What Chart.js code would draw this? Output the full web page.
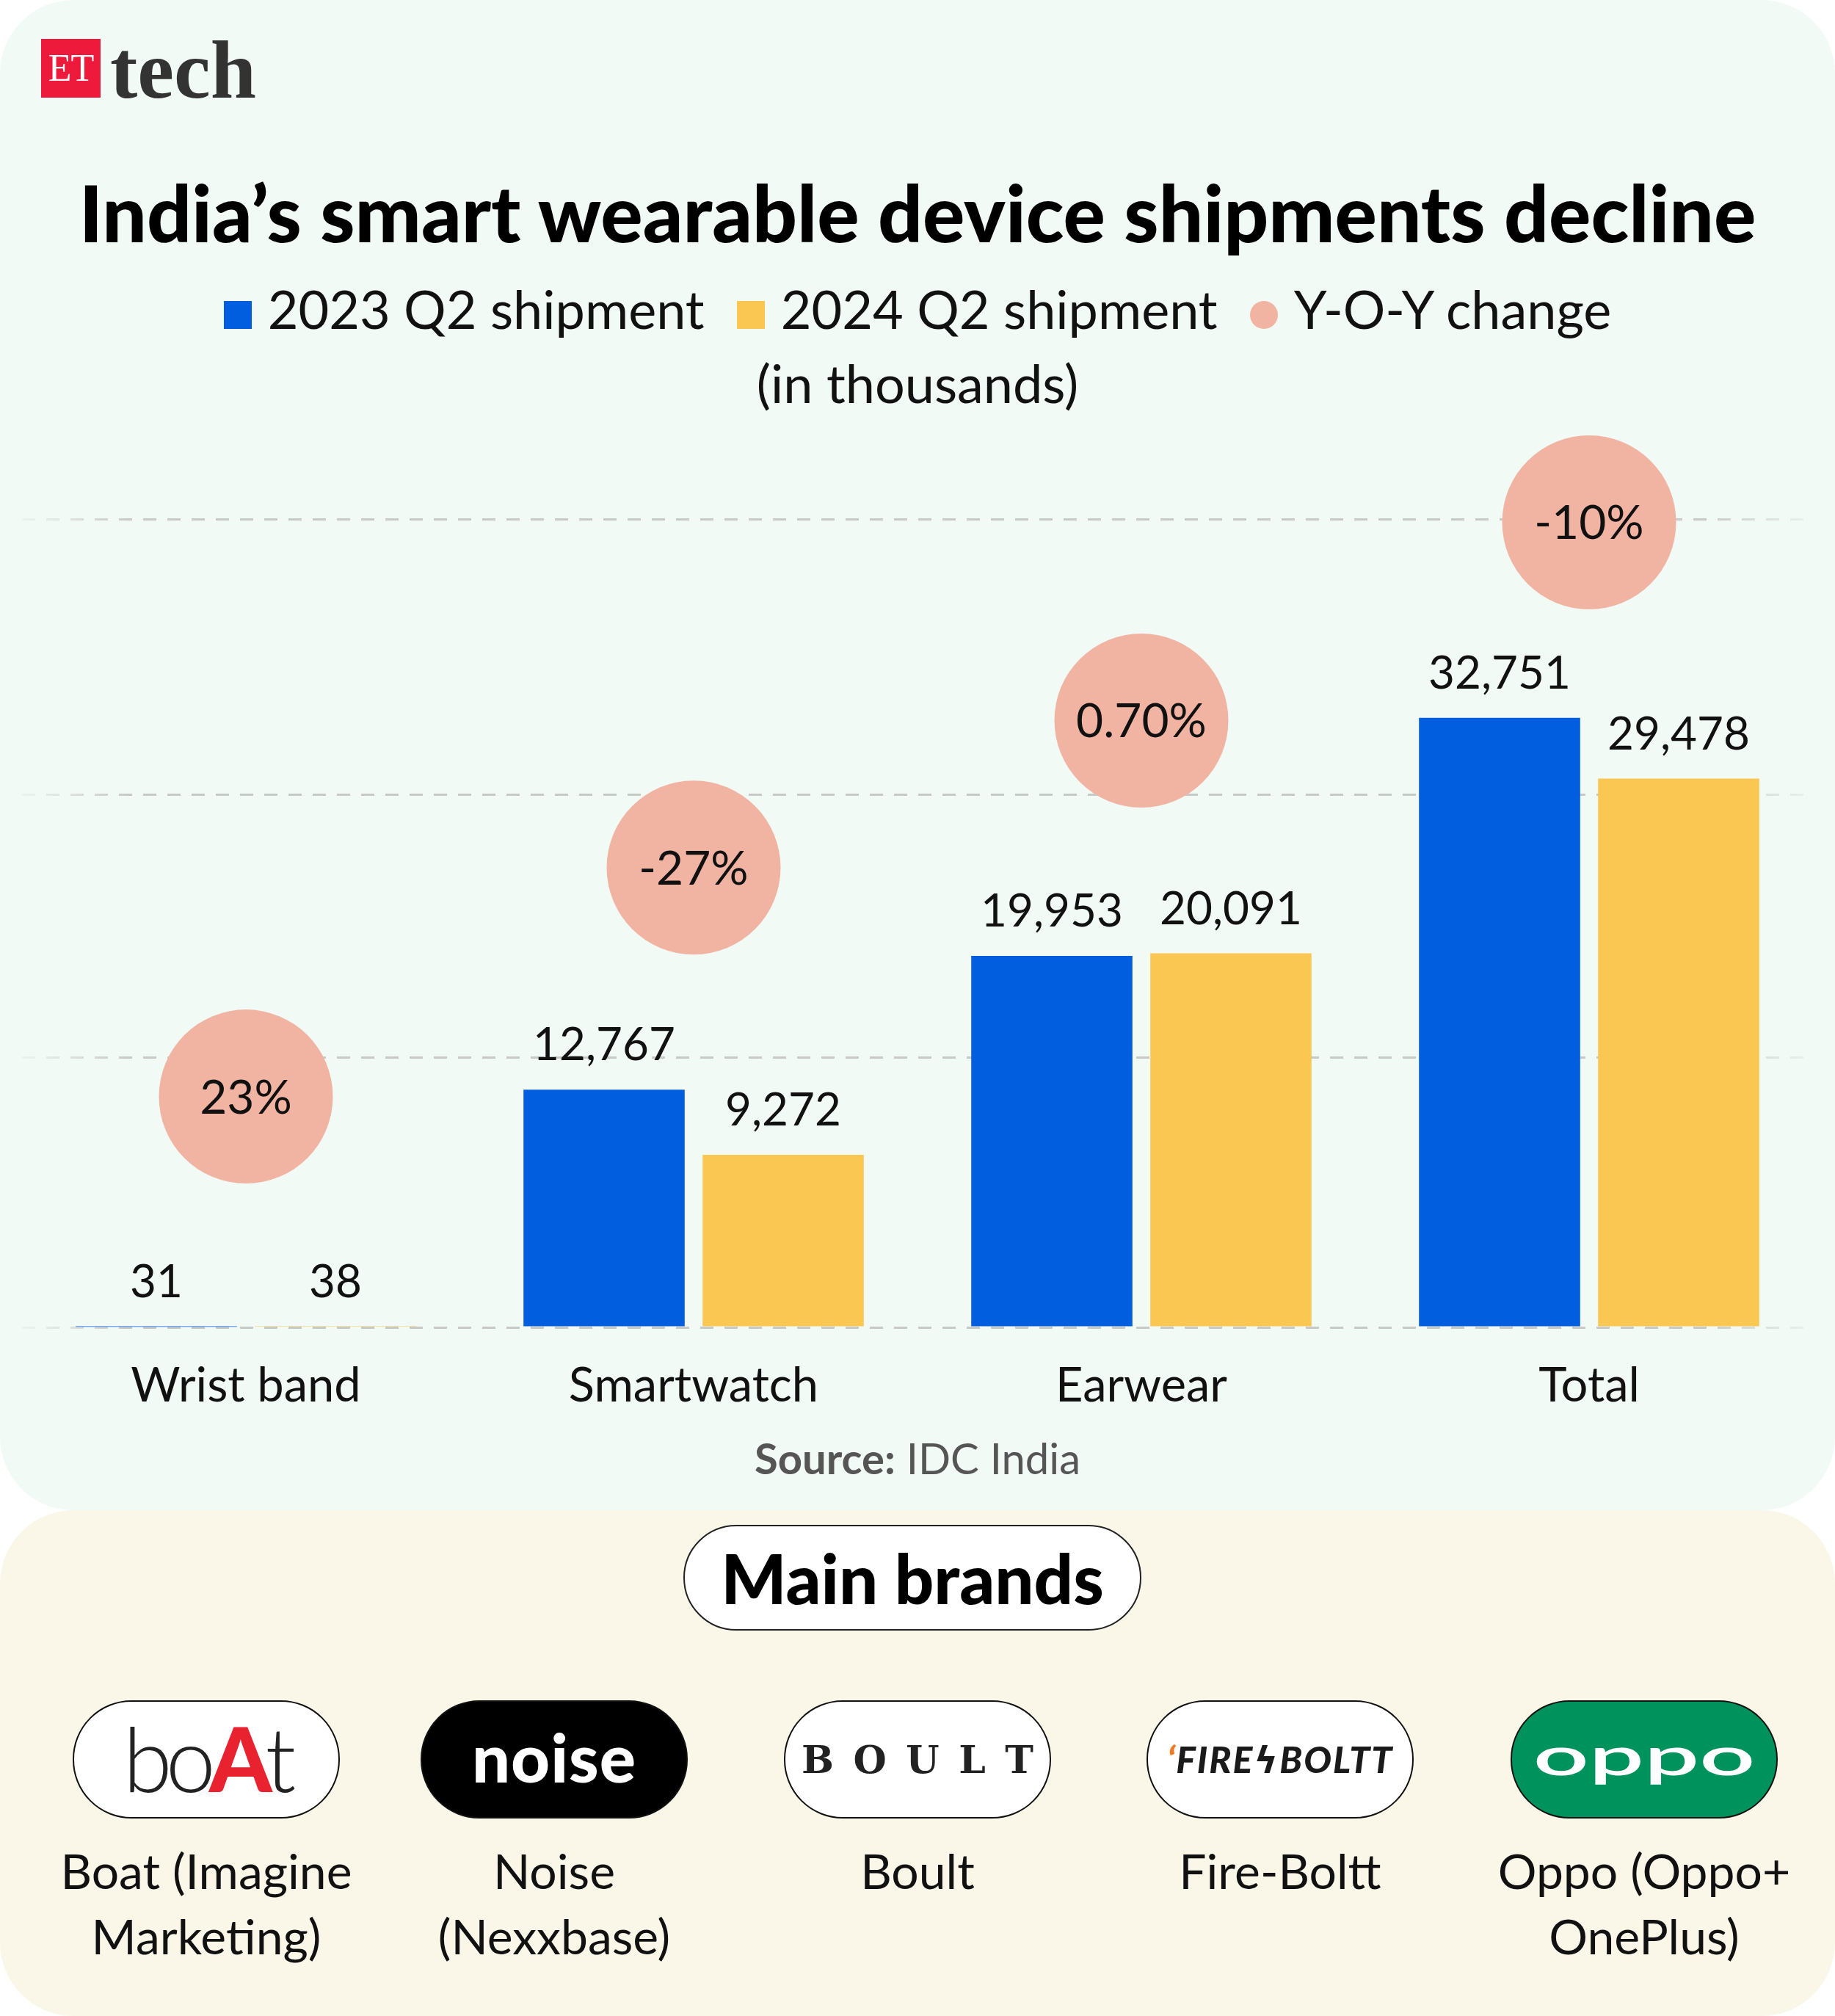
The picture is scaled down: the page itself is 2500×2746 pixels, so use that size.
<!DOCTYPE html>
<html>
<head>
<meta charset="utf-8">
<script src="https://cdn.jsdelivr.net/npm/chart.js"></script>
<style>
  html, body { margin:0; padding:0; background:#ffffff; }
  body { width:2500px; height:2746px; position:relative; overflow:hidden; font-family:Lato, "Noto Sans", sans-serif; color:#111; }
  .abs { position:absolute; }
  #topPanel { left:0; top:0; width:2500px; height:2057px; background:#F1FAF5; border-radius:100px; }
  #bottomPanel { left:0; top:2057px; width:2500px; height:689px; background:#FAF7E8; border-radius:100px; }
  #etBox { left:56px; top:53px; width:81px; height:80px; background:#ED1A3B; color:#fff; font:400 52px/80px "Liberation Serif", serif; text-align:center; letter-spacing:-1px; }
  #etTech { left:150px; top:39px; font:700 112px/112px "Liberation Serif", serif; color:#333; }
  #title { left:0; top:225px; width:2500px; text-align:center; font:900 107px/128px Lato; color:#000; white-space:nowrap; }
  #legend { left:0; top:377px; width:2500px; display:flex; justify-content:center; align-items:baseline; font:400 72px/86px Lato; color:#111; }
  .li { display:flex; align-items:baseline; margin:0 22px; white-space:nowrap; }
  .sw { display:inline-block; width:38px; height:38px; margin-right:22px; }
  #units { left:0; top:478px; width:2500px; text-align:center; font:400 72px/86px Lato; color:#111; }
  #chartWrap { left:0; top:560px; width:2500px; height:1400px; }
  #source { left:0; top:1951px; width:2500px; text-align:center; font:400 58px/70px Lato; color:#555; }
  #mainBrands { left:931px; top:2077px; width:624px; height:144px; box-sizing:border-box; border:2.5px solid #222; border-radius:72px; background:#fff; display:flex; align-items:center; justify-content:center; font:900 94px/1 Lato; color:#000; }
  .pill { top:2316px; width:364px; height:161px; box-sizing:border-box; border:2.5px solid #111; border-radius:80px; background:#fff; display:flex; align-items:center; justify-content:center; overflow:hidden; }
  .bname { top:2503px; width:480px; text-align:center; font:400 66px/89px Lato; color:#111; }
  .boult { display:flex; justify-content:space-between; width:316px; font:700 52px/1 "DejaVu Serif", serif; color:#222; }
</style>
</head>
<body>
<div id="topPanel" class="abs"></div>
<div id="bottomPanel" class="abs"></div>

<div id="etBox" class="abs">ET</div>
<div id="etTech" class="abs">tech</div>

<div id="title" class="abs">India’s smart wearable device shipments decline</div>

<div id="legend" class="abs">
  <div class="li"><span class="sw" style="background:#005EDF"></span><span>2023 Q2 shipment</span></div>
  <div class="li"><span class="sw" style="background:#FAC752"></span><span>2024 Q2 shipment</span></div>
  <div class="li"><span class="sw" style="background:#F1B4A2;border-radius:50%"></span><span>Y-O-Y change</span></div>
</div>
<div id="units" class="abs">(in thousands)</div>

<div id="chartWrap" class="abs"><canvas id="chart" width="2500" height="1400"></canvas></div>

<div id="source" class="abs"><b style="font-weight:700">Source:</b> IDC India</div>

<div id="mainBrands" class="abs">Main brands</div>

<div class="abs pill" style="left:99px">
  <span style="font:300 122px/1 Lato;color:#222;letter-spacing:-9px;margin-top:-6px">bo<span style="color:#E8222E;font-weight:900">A</span>t</span>
</div>
<div class="abs pill" style="left:573px;background:#000">
  <span style="font:900 92px/1 Lato;color:#fff;letter-spacing:1px;margin-top:-8px">noise</span>
</div>
<div class="abs pill" style="left:1068px">
  <span class="boult"><span>B</span><span>O</span><span>U</span><span>L</span><span>T</span></span>
</div>
<div class="abs pill" style="left:1562px">
  <span style="font:italic 900 50px/1 Lato;color:#1a1a1a;white-space:nowrap;letter-spacing:2px"><span style="color:#F07A23">ʻ</span>FIRE<span style="font-family:'DejaVu Sans';font-style:normal">ϟ</span>BOLTT</span>
</div>
<div class="abs pill" style="left:2058px;background:#00925D">
  <span style="display:inline-block;font:600 74px/1 Lato;color:#fff;transform:scaleX(1.8);margin-top:-14px">oppo</span>
</div>

<div class="abs bname" style="left:41px">Boat (Imagine<br>Marketing)</div>
<div class="abs bname" style="left:515px">Noise<br>(Nexxbase)</div>
<div class="abs bname" style="left:1010px">Boult</div>
<div class="abs bname" style="left:1504px">Fire-Boltt</div>
<div class="abs bname" style="left:2000px">Oppo (Oppo+<br>OnePlus)</div>

<script>
// ---- data ----
const categories = ['Wrist band', 'Smartwatch', 'Earwear', 'Total'];
const shipments2023 = [31, 12767, 19953, 32751];
const shipments2024 = [38, 9272, 20091, 29478];
const yoyChangeLabels = ['23%', '-27%', '0.70%', '-10%'];
// vertical level (in thousands, on the value axis) at which each Y-O-Y bubble sits
const yoyBubbleLevel = [12400, 24700, 32600, 43250];
// dashed reference lines of the value axis
const gridTicks = [0, 14500, 28600, 43400];
const yAxisMax = 48000;

function drawChart() {
  const labelPlugin = {
    id: 'valueLabels',
    afterDatasetsDraw(chart) {
      const ctx = chart.ctx;
      ctx.save();
      ctx.fillStyle = '#111';
      ctx.textAlign = 'center';
      ctx.textBaseline = 'alphabetic';
      ctx.font = '400 62px Lato';
      [0, 1].forEach(di => {
        const meta = chart.getDatasetMeta(di);
        meta.data.forEach((bar, i) => {
          const v = chart.data.datasets[di].data[i];
          ctx.fillText(v.toLocaleString('en-US'), bar.x, bar.y - 40);
        });
      });
      ctx.font = '400 64px Lato';
      const m = chart.getDatasetMeta(2);
      m.data.forEach((pt, i) => {
        ctx.fillText(yoyChangeLabels[i], pt.x, pt.y + 23);
      });
      ctx.restore();
    }
  };

  const gridColor = (c) => {
    const chart = c.chart;
    const a = chart.chartArea;
    if (!a) return '#cccccc';
    const g = chart.ctx.createLinearGradient(a.left, 0, a.right, 0);
    g.addColorStop(0, 'rgba(200,200,200,0.12)');
    g.addColorStop(0.06, 'rgba(200,200,200,1)');
    g.addColorStop(0.94, 'rgba(200,200,200,1)');
    g.addColorStop(1, 'rgba(200,200,200,0.12)');
    return g;
  };

  new Chart(document.getElementById('chart'), {
    type: 'bar',
    data: {
      labels: categories,
      datasets: [
        { label: '2023 Q2 shipment', data: shipments2023, backgroundColor: '#005EDF', borderWidth: 0, order: 2 },
        { label: '2024 Q2 shipment', data: shipments2024, backgroundColor: '#FAC752', borderWidth: 0, order: 2 },
        { type: 'line', label: 'Y-O-Y change', data: yoyBubbleLevel, showLine: false,
          pointRadius: 118.5, pointHoverRadius: 118.5, pointBackgroundColor: '#F1B4A2',
          pointBorderWidth: 0, pointBorderColor: 'rgba(0,0,0,0)', clip: false, order: 1 }
      ]
    },
    options: {
      responsive: false,
      animation: false,
      devicePixelRatio: 1,
      layout: { autoPadding: false, padding: { left: 30, right: 30, top: 31, bottom: 0 } },
      plugins: { legend: { display: false }, tooltip: { enabled: false } },
      scales: {
        x: {
          grid: { display: false },
          border: { display: false },
          ticks: { color: '#111', font: { family: 'Lato', size: 65, weight: '400' }, padding: 33, maxRotation: 0 }
        },
        y: {
          min: 0, max: yAxisMax,
          afterBuildTicks: (scale) => { scale.ticks = gridTicks.map(v => ({ value: v })); },
          ticks: { display: false },
          grid: { color: gridColor, lineWidth: 3, drawTicks: false },
          border: { display: false, dash: [18, 15] }
        }
      }
    },
    plugins: [labelPlugin]
  });
}

const fontLoads = ['400 64px Lato', '700 58px Lato', '900 100px Lato', '300 100px Lato'].map(f => document.fonts.load(f));
Promise.all(fontLoads).then(drawChart, drawChart);
</script>
</body>
</html>
